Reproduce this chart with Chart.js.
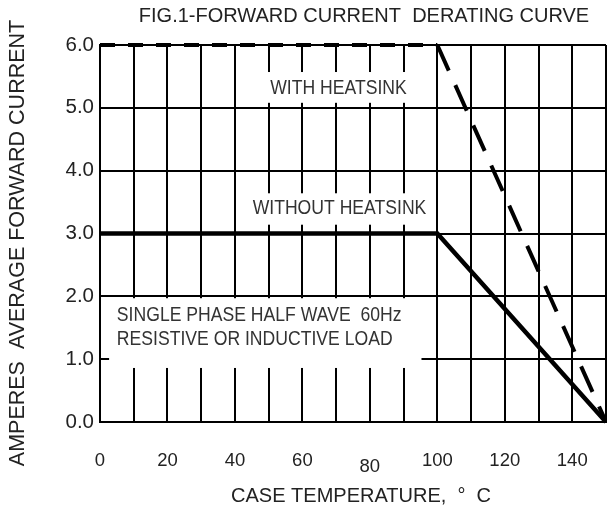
<!DOCTYPE html>
<html>
<head>
<meta charset="utf-8">
<script src="https://cdn.jsdelivr.net/npm/chart.js@4/dist/chart.umd.min.js"></script>
<style>
  html, body { margin: 0; padding: 0; background: #fff; }
  #wrap { width: 607px; height: 508px; position: relative; }
</style>
</head>
<body>
<div id="wrap"><canvas id="c" width="607" height="508"></canvas></div>
<script>
// ---- data ----
const caseTemp = [0, 100, 150];
const withHeatsink = [6.0, 6.0, 0.0];
const withoutHeatsink = [3.0, 3.0, 0.0];
const xTickLabels = [0, 20, 40, 60, 80, 100, 120, 140];
const yTickValues = [0, 1, 2, 3, 4, 5, 6];

const chartTitle = 'FIG.1-FORWARD CURRENT  DERATING CURVE';
const xTitle = 'CASE TEMPERATURE,  \u00B0  C';
const yTitle = 'AMPERES  AVERAGE FORWARD CURRENT';
const noteWith = 'WITH HEATSINK';
const noteWithout = 'WITHOUT HEATSINK';
const noteLoad = ['SINGLE PHASE HALF WAVE  60Hz', 'RESISTIVE OR INDUCTIVE LOAD'];

// ---- annotation layout (in data units) ----
const notes = [
  { lines: [noteWith], box: [46, 95, 5.08, 5.57], at: [70.7, 5.30], align: 'center' },
  { lines: [noteWithout], box: [43, 98.2, 3.14, 3.64], at: [71, 3.40], align: 'center' },
  { lines: noteLoad, box: [2.7, 95.3, 0.86, 1.97], at: [5.0, 1.69], lineStep: -0.37, align: 'left' }
];

const FONT = '"Liberation Sans", Arial, sans-serif';
const NOTE_SQUEEZE = 0.88;

const notesPlugin = {
  id: 'notes',
  beforeDatasetsDraw(chart) {
    const ctx = chart.ctx, xs = chart.scales.x, ys = chart.scales.y;
    ctx.save();
    notes.forEach(n => {
      const x0 = xs.getPixelForValue(n.box[0]), x1 = xs.getPixelForValue(n.box[1]);
      const y0 = ys.getPixelForValue(n.box[3]), y1 = ys.getPixelForValue(n.box[2]);
      ctx.fillStyle = '#fff';
      ctx.fillRect(x0, y0, x1 - x0, y1 - y0);
      ctx.fillStyle = '#333';
      ctx.font = '20px ' + FONT;
      ctx.textBaseline = 'middle';
      ctx.textAlign = n.align;
      n.lines.forEach((t, i) => {
        const px = xs.getPixelForValue(n.at[0]);
        const py = ys.getPixelForValue(n.at[1] + (n.lineStep || 0) * i);
        ctx.save();
        ctx.translate(px, py);
        ctx.scale(NOTE_SQUEEZE, 1);
        ctx.fillText(t, 0, 0);
        ctx.restore();
      });
    });
    ctx.restore();
  },
  afterDraw(chart) {
    const ctx = chart.ctx;
    ctx.save();
    ctx.fillStyle = '#222';
    ctx.textBaseline = 'middle';
    ctx.textAlign = 'center';
    ctx.font = '20px ' + FONT;
    ctx.fillText(chartTitle, 364, 16);
    ctx.font = '20px ' + FONT;
    ctx.fillText(xTitle, 361, 496);
    ctx.translate(18, 243);
    ctx.rotate(-Math.PI / 2);
    ctx.font = '21.5px ' + FONT;
    ctx.fillText(yTitle, 0, 0);
    ctx.restore();
  }
};

new Chart(document.getElementById('c'), {
  type: 'line',
  data: {
    datasets: [
      {
        label: 'With heatsink',
        data: caseTemp.map((t, i) => ({ x: t, y: withHeatsink[i] })),
        borderColor: '#000',
        borderWidth: 4,
        borderDash: [15, 13],
        segment: { borderDash: c => c.p0DataIndex === 0 ? [15, 13] : [28, 16] },
        pointRadius: 0,
        tension: 0,
        fill: false,
        clip: 4
      },
      {
        label: 'Without heatsink',
        data: caseTemp.map((t, i) => ({ x: t, y: withoutHeatsink[i] })),
        borderColor: '#000',
        borderWidth: 4.5,
        pointRadius: 0,
        tension: 0,
        fill: false,
        clip: 4
      }
    ]
  },
  options: {
    responsive: false,
    animation: false,
    devicePixelRatio: 1,
    layout: { padding: { top: 45, right: 1, left: 0, bottom: 0 } },
    plugins: { legend: { display: false }, tooltip: { enabled: false }, title: { display: false } },
    scales: {
      x: {
        type: 'linear',
        min: 0, max: 150,
        afterFit: s => { s.height = 86; s.paddingLeft = 0; s.paddingRight = 0; },
        grid: { color: '#000', lineWidth: 2, drawTicks: false },
        border: { color: '#000', width: 2 },
        ticks: {
          stepSize: 10,
          autoSkip: false,
          maxRotation: 0,
          padding: 28,
          color: '#222',
          font: c => ({ family: FONT, size: 18.5, lineHeight: (c.tick && c.tick.value === 80) ? 1.85 : 1.2 }),
          callback: v => xTickLabels.includes(v) ? String(v) : ''
        }
      },
      y: {
        type: 'linear',
        min: 0, max: 6,
        afterFit: s => { s.width = 100; s.paddingTop = 0; s.paddingBottom = 0; },
        afterBuildTicks: s => { s.ticks = yTickValues.map(v => ({ value: v })); },
        grid: { color: '#000', lineWidth: 2, drawTicks: false },
        border: { color: '#000', width: 2 },
        ticks: {
          padding: 6,
          color: '#222',
          font: { family: FONT, size: 20.5 },
          callback: v => Number(v).toFixed(1)
        }
      }
    }
  },
  plugins: [notesPlugin]
});
</script>
</body>
</html>
